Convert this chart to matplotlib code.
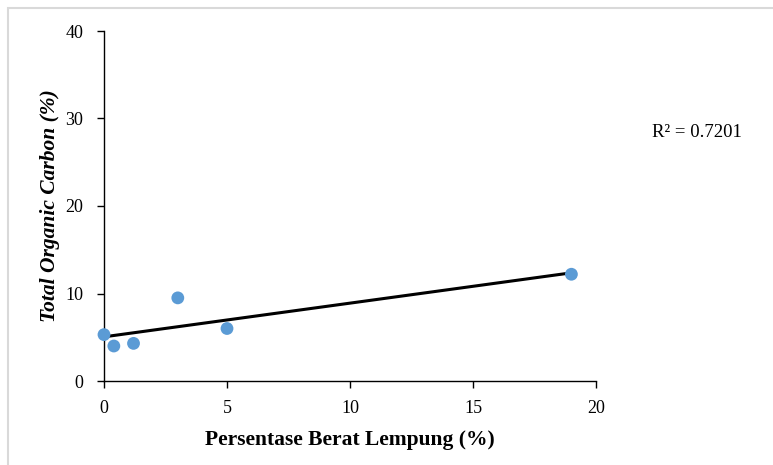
import numpy as np
import matplotlib
matplotlib.use("Agg")
import matplotlib.pyplot as plt
from matplotlib.patches import Rectangle

clay = [0.0, 0.4, 1.2, 3.0, 5.0, 19.0]
toc = [5.3, 4.0, 4.3, 9.5, 6.0, 12.2]
xticks = [0, 5, 10, 15, 20]
yticks = [0, 10, 20, 30, 40]
r2_label = "R² = 0.7201"

plt.rcParams['font.family'] = ['Liberation Serif', 'DejaVu Serif']

fig = plt.figure(figsize=(7.73, 4.65), dpi=100)
ax = fig.add_axes([104/773, 1-381/465, (596-104)/773, (381-31)/465])

ax.scatter(clay, toc, s=85, color='#5B9BD5', zorder=3, edgecolors='none', clip_on=False)
coef = np.polyfit(clay, toc, 1)
xs = np.array([min(clay), max(clay)])
ax.plot(xs, np.polyval(coef, xs), color='black', lw=2.2, zorder=2)

ax.set_xlim(0, 20)
ax.set_ylim(0, 40)
ax.set_xticks(xticks)
ax.set_yticks(yticks)
ax.spines['top'].set_visible(False)
ax.spines['right'].set_visible(False)
for s in ['left', 'bottom']:
    ax.spines[s].set_linewidth(1.0)
    ax.spines[s].set_color('black')
ax.tick_params(direction='out', length=5, width=1, labelsize=13, colors='black')
ax.tick_params(axis='y', pad=10)
ax.tick_params(axis='x', pad=9)

ax.set_xlabel("Persentase Berat Lempung (%)", fontsize=15.5, fontweight='bold', labelpad=9)
ax.set_ylabel("Total Organic Carbon (%)", fontsize=15.5, fontweight='bold', style='italic', labelpad=4)

fig.text(652/773, 1-132/465, r2_label, fontsize=13.5, va='center', ha='left')

rect = Rectangle((8/773, -0.01), 1.0, 1 - 8/465 + 0.01, transform=fig.transFigure,
                 fill=False, edgecolor='#d9d9d9', lw=1.5, clip_on=False)
fig.patches.append(rect)

fig.savefig("out.png", dpi=100)
